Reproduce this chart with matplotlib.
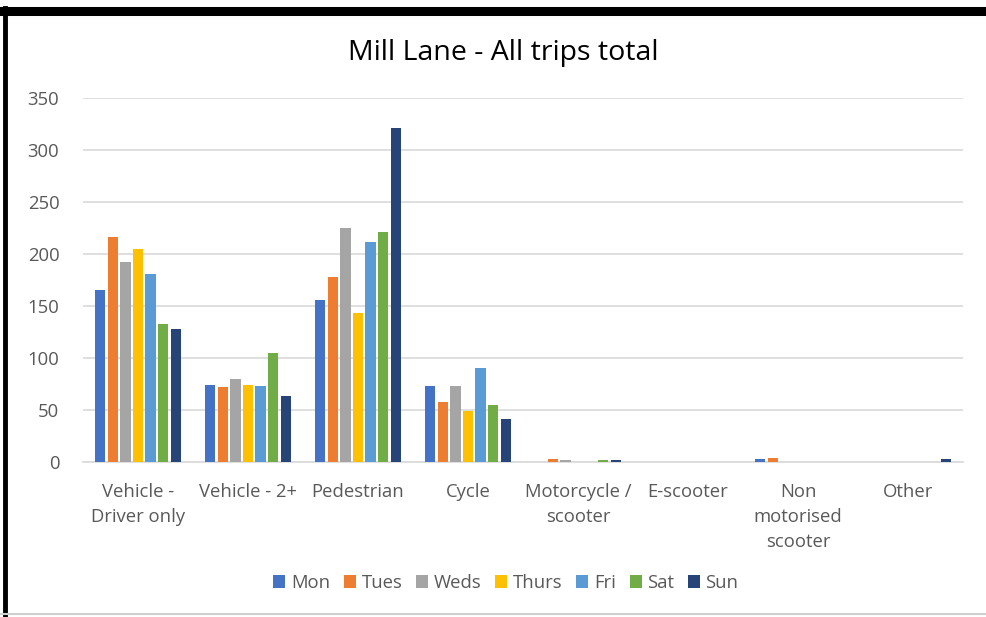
import matplotlib.pyplot as plt
import numpy as np
from matplotlib.lines import Line2D

categories = ["Vehicle -\nDriver only", "Vehicle - 2+", "Pedestrian", "Cycle",
              "Motorcycle /\nscooter", "E-scooter", "Non\nmotorised\nscooter", "Other"]
days = ["Mon", "Tues", "Weds", "Thurs", "Fri", "Sat", "Sun"]
colors = ["#4472C4", "#ED7D31", "#A5A5A5", "#FFC000", "#5B9BD5", "#70AD47", "#264478"]

mon = [165, 74, 156, 73, 0, 0, 3, 0]
tues = [216, 72, 178, 58, 3, 0, 4, 0]
weds = [192, 80, 225, 73, 2, 0, 0, 0]
thurs = [205, 74, 143, 49, 0, 0, 0, 0]
fri = [181, 73, 212, 90, 0, 0, 0, 0]
sat = [133, 105, 221, 55, 2, 0, 0, 0]
sun = [128, 63, 321, 41, 2, 0, 0, 3]
series = [mon, tues, weds, thurs, fri, sat, sun]

plt.rcParams['font.family'] = ['Open Sans', 'DejaVu Sans']
fig = plt.figure(figsize=(9.86, 6.17), dpi=100)
ax = fig.add_axes([83 / 986, 1 - 462 / 617, 880 / 986, 364 / 617])

x = np.arange(len(categories))
step = 0.114
width = 0.092
for i, (vals, day, col) in enumerate(zip(series, days, colors)):
    ax.bar(x + (i - 3) * step, vals, width, color=col, label=day, zorder=3)

ax.set_xlim(-0.5, len(categories) - 0.5)
ax.set_ylim(0, 350)
ax.set_yticks(range(0, 351, 50))
ax.yaxis.grid(True, color="#d9d9d9", linewidth=1.2, zorder=0)
ax.set_xticks(x)
ax.set_xticklabels(categories, va="top", linespacing=1.5)
ax.tick_params(axis="both", length=0, labelsize=13.3, labelcolor="#595959")
ax.tick_params(axis="x", pad=15)
ax.tick_params(axis="y", pad=17)
for s in ["top", "right", "left"]:
    ax.spines[s].set_visible(False)
ax.spines["bottom"].set_color("#d9d9d9")
ax.spines["bottom"].set_linewidth(1.2)

fig.text(503 / 986, 1 - 53 / 617, "Mill Lane - All trips total", ha="center", va="center",
         fontsize=20.5, color="#000000")

handles, labels = ax.get_legend_handles_labels()
fig.legend(handles, labels, loc="center", bbox_to_anchor=(506 / 986, 1 - 583 / 617),
           ncol=7, frameon=False, fontsize=13.3, labelcolor="#595959",
           handlelength=0.65, handleheight=0.65, handletextpad=0.3, columnspacing=0.75)

# screenshot frame
fig.add_artist(Line2D([0, 1], [1 - 11 / 617, 1 - 11 / 617], color="black", linewidth=6.5))
fig.add_artist(Line2D([5 / 986, 5 / 986], [0, 1 - 8 / 617], color="black", linewidth=3.5))
fig.add_artist(Line2D([0, 1], [1 - 614 / 617, 1 - 614 / 617], color="#d0d0d0", linewidth=1.5))

fig.savefig("out.png", dpi=100)
